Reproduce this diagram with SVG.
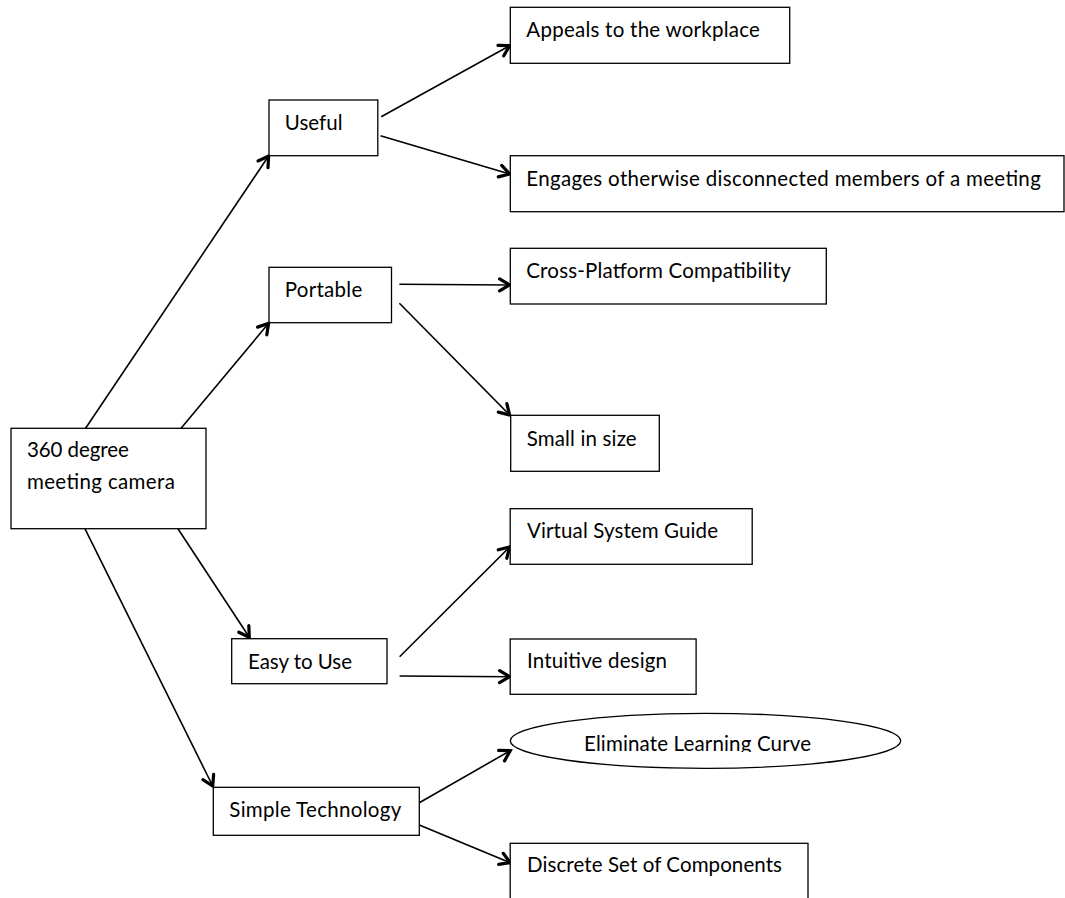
<svg xmlns="http://www.w3.org/2000/svg" width="1065" height="898" viewBox="0 0 1065 898">
<style>
.box{fill:#fff;stroke:#000;stroke-width:1.3}
.t{font-family:Lato,"Liberation Sans",sans-serif;font-size:20.5px;fill:#000}
.c line{stroke:#000;stroke-width:1.6;marker-end:url(#ah)}
</style>
<defs>
<marker id="ah" markerUnits="userSpaceOnUse" markerWidth="18" markerHeight="18" viewBox="-13 -9 16 18" refX="0" refY="0" orient="auto">
<path d="M-10,-6 L0,0 L-10,6" fill="none" stroke="#000" stroke-width="3.2" stroke-linecap="round" stroke-linejoin="miter"/>
</marker>
<clipPath id="elclip"><rect x="500" y="700" width="420" height="52"/></clipPath>
</defs>
<rect width="1065" height="898" fill="#fff"/>
<g class="c" id="connectors">
<line x1="84.4" y1="430" x2="268.6" y2="156"/>
<line x1="177.3" y1="432.7" x2="268.6" y2="323.3"/>
<line x1="177.3" y1="527.7" x2="249.3" y2="637.3"/>
<line x1="84.4" y1="527.7" x2="212.7" y2="786"/>
<line x1="381.2" y1="116.7" x2="509.6" y2="45.7"/>
<line x1="380.5" y1="135.7" x2="509.6" y2="174"/>
<line x1="399.4" y1="284.3" x2="509.6" y2="285"/>
<line x1="399.4" y1="303.3" x2="509.6" y2="415"/>
<line x1="399.6" y1="656.7" x2="509.6" y2="547"/>
<line x1="399.6" y1="676" x2="509.6" y2="676.7"/>
<line x1="419.3" y1="802.7" x2="510.2" y2="750.7"/>
<line x1="419.3" y1="825" x2="510.2" y2="862.7"/>
</g>
<g id="root"><rect class="box" x="11" y="428.3" width="195" height="100.4"/>
<text class="t" x="26.9" y="456.7" textLength="102">360 degree</text>
<text class="t" x="26.9" y="489.3" textLength="148">meeting camera</text></g>
<g id="useful"><rect class="box" x="269" y="100" width="108.8" height="55.7"/>
<text class="t" x="284.8" y="130" textLength="57.8">Useful</text></g>
<g id="portable"><rect class="box" x="269" y="267.3" width="122.5" height="55.4"/>
<text class="t" x="284.8" y="296.7" textLength="77.5">Portable</text></g>
<g id="easy"><rect class="box" x="231.7" y="638.7" width="155.3" height="45"/>
<text class="t" x="248" y="669.3" textLength="104">Easy to Use</text></g>
<g id="simple"><rect class="box" x="213.3" y="787.3" width="206" height="48"/>
<text class="t" x="229.3" y="817.3" textLength="172">Simple Technology</text></g>
<g id="appeals"><rect class="box" x="510.3" y="7.3" width="279.4" height="56"/>
<text class="t" x="526.3" y="36.7" textLength="233.6">Appeals to the workplace</text></g>
<g id="engages"><rect class="box" x="510.3" y="155.7" width="553.7" height="56"/>
<text class="t" x="526.3" y="185.7" textLength="514.5">Engages otherwise disconnected members of a meeting</text></g>
<g id="cross"><rect class="box" x="510.3" y="248.3" width="316" height="55.7"/>
<text class="t" x="526.3" y="278.3" textLength="264.5">Cross-Platform Compatibility</text></g>
<g id="small"><rect class="box" x="510.7" y="415.3" width="148.6" height="56"/>
<text class="t" x="526.7" y="445.7" textLength="110">Small in size</text></g>
<g id="virtual"><rect class="box" x="510.2" y="508.7" width="242" height="55.6"/>
<text class="t" x="527" y="538.3" textLength="191">Virtual System Guide</text></g>
<g id="intuitive"><rect class="box" x="510.2" y="639" width="185.9" height="55.3"/>
<text class="t" x="527" y="668.3" textLength="140">Intuitive design</text></g>
<g id="eliminate"><ellipse class="box" cx="705.5" cy="740.8" rx="195.2" ry="27.5"/>
<text class="t" x="584" y="750.7" textLength="227" clip-path="url(#elclip)">Eliminate Learning Curve</text></g>
<g id="discrete"><rect class="box" x="510.2" y="843.3" width="297.8" height="70"/>
<text class="t" x="527" y="871.7" textLength="255">Discrete Set of Components</text></g>
</svg>
